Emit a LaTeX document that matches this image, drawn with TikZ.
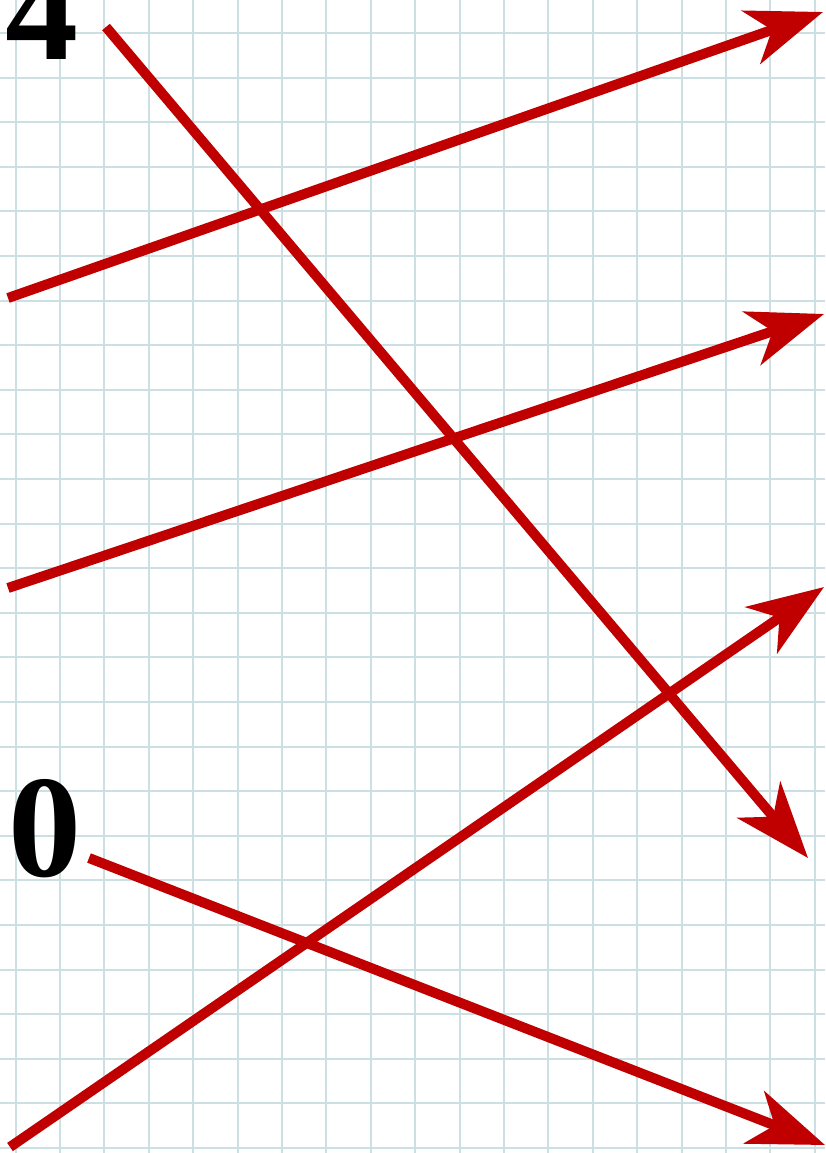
\documentclass[tikz,border=0pt]{standalone}
\usepackage{fontspec}
\setmainfont{Liberation Serif}
\usetikzlibrary{arrows.meta}
\definecolor{gridc}{RGB}{204,224,228}
\definecolor{arrred}{RGB}{192,0,0}
\begin{document}
\begin{tikzpicture}[x=1pt,y=-1pt,
  gridline/.style={draw=gridc,line width=2pt},
  redarrow/.style={draw=arrred,line width=10pt,-{Stealth[length=76pt,width=56pt,inset=22pt]}},
  digit/.style={font=\fontsize{146}{146}\selectfont\bfseries,inner sep=0pt,anchor=base west}]
\fill[white] (0,0) rectangle (825,1153);
\useasboundingbox (0,0) rectangle (825,1153);
\foreach \i in {0,...,18} {\draw[gridline] (15.5+44.4*\i,0) -- (15.5+44.4*\i,1153);}
\foreach \j in {0,...,25} {\draw[gridline] (0,33+44.6*\j) -- (825,33+44.6*\j);}
\node[digit] (four) at (5,60) {4};
\node[digit] (zero) at (8,876) {0};
\coordinate (a1) at (106,27);  \coordinate (b1) at (808,858);
\coordinate (a2) at (8,298);   \coordinate (b2) at (823,12);
\coordinate (a3) at (8,588);   \coordinate (b3) at (824,314);
\coordinate (a4) at (10,1147); \coordinate (b4) at (824,587);
\coordinate (a5) at (89,858);  \coordinate (b5) at (825,1145);
\draw[redarrow] (a1) -- (b1);
\draw[redarrow] (a2) -- (b2);
\draw[redarrow] (a3) -- (b3);
\draw[redarrow] (a4) -- (b4);
\draw[redarrow] (a5) -- (b5);
\end{tikzpicture}
\end{document}
